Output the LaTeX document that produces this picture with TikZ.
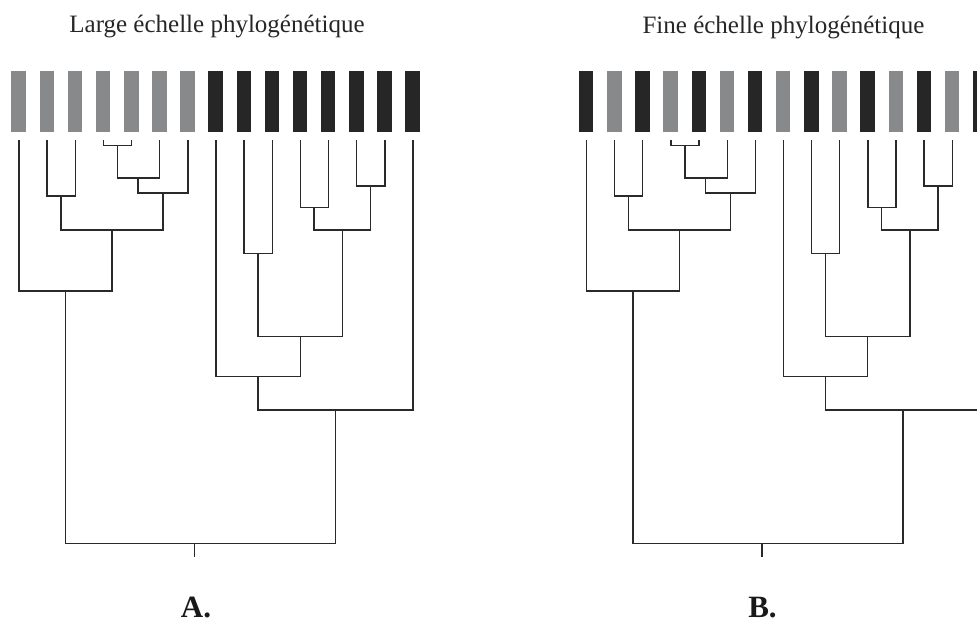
\documentclass[tikz,border=0pt]{standalone}
\usepackage{fontspec}
\setmainfont{Liberation Serif}
\definecolor{bargray}{HTML}{88898B}
\definecolor{barblack}{HTML}{262626}
\definecolor{treeline}{HTML}{2A2A2A}
\newcommand{\phylotree}{%
  \foreach \i in {1,...,15}{\coordinate (l\i) at ({19+28.14*(\i-1)},141);}
  \coordinate (n45) at (117.3,145.7);
  \coordinate (n456) at (138,178);
  \coordinate (n4567) at (163,193);
  \coordinate (n23) at (60.9,196);
  \coordinate (n27) at (112,230);
  \coordinate (n17) at (65.5,291);
  \coordinate (n1112) at (314,207.7);
  \coordinate (n1314) at (370.5,186);
  \coordinate (n1114) at (342.3,230);
  \coordinate (n910) at (258,253.3);
  \coordinate (n914) at (300.2,336.7);
  \coordinate (n814) at (258.1,376.7);
  \coordinate (n815) at (335.6,410);
  \coordinate (root) at (194.3,543.3);
  \coordinate (tick) at (194.3,556);
  \draw[branch] (l4) |- (n45) -| (l5);
  \draw[branch] (n45) |- (n456) -| (l6);
  \draw[branch] (n456) |- (n4567) -| (l7);
  \draw[branch] (l2) |- (n23) -| (l3);
  \draw[branch] (n23) |- (n27) -| (n4567);
  \draw[branch] (l1) |- (n17) -| (n27);
  \draw[branch] (l11) |- (n1112) -| (l12);
  \draw[branch] (l13) |- (n1314) -| (l14);
  \draw[branch] (n1112) |- (n1114) -| (n1314);
  \draw[branch] (l9) |- (n910) -| (l10);
  \draw[branch] (n910) |- (n914) -| (n1114);
  \draw[branch] (l8) |- (n814) -| (n914);
  \draw[branch] (n814) |- (n815) -| (l15);
  \draw[branch] (n17) |- (root) -| (n815);
  \draw[branch] (root) -- (tick);
}
\begin{document}
\begin{tikzpicture}[x=1pt,y=-1pt,
  bar/.style={minimum width=14.5pt, minimum height=61pt, inner sep=0pt, draw=none, anchor=north},
  g/.style={bar, fill=bargray},
  k/.style={bar, fill=barblack},
  branch/.style={draw=treeline, line width=1.4pt, line cap=rect, line join=miter},
  titletext/.style={font=\fontsize{25}{30}\selectfont, text=black!85, anchor=base, inner sep=0pt},
  paneltext/.style={font=\bfseries\fontsize{31}{36}\selectfont, text=black!90, anchor=base, inner sep=0pt}]
\useasboundingbox (0,0) rectangle (977,622);
\clip (0,0) rectangle (977,622);
% Panel A
\begin{scope}[name prefix=A-]
  \node[titletext] (title) at (217,32) {Large échelle phylogénétique};
  \foreach \i/\s in {1/g,2/g,3/g,4/g,5/g,6/g,7/g,8/k,9/k,10/k,11/k,12/k,13/k,14/k,15/k}
    {\node[\s] (bar\i) at ({18.7+28.14*(\i-1)},71) {};}
  \phylotree
  \node[paneltext] (label) at (196,617.5) {A.};
\end{scope}
% Panel B
\begin{scope}[xshift=567.5pt, name prefix=B-]
  \node[titletext] (title) at (216,33) {Fine échelle phylogénétique};
  \foreach \i/\s in {1/k,2/g,3/k,4/g,5/k,6/g,7/k,8/g,9/k,10/g,11/k,12/g,13/k,14/g,15/k}
    {\node[\s] (bar\i) at ({18.7+28.14*(\i-1)},71) {};}
  \phylotree
  \node[paneltext] (label) at (195,617.5) {B.};
\end{scope}
\end{tikzpicture}
\end{document}
